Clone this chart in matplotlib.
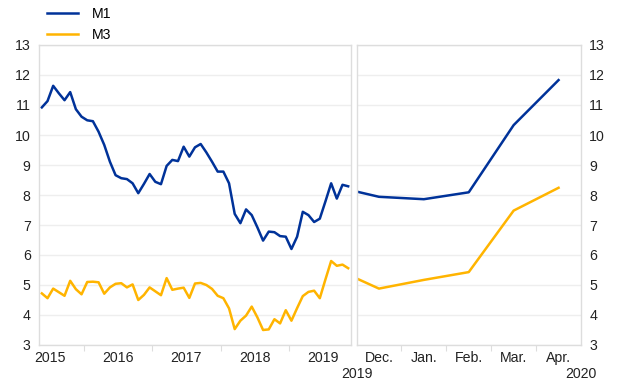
import numpy as np
import matplotlib
matplotlib.use("Agg")
import matplotlib.pyplot as plt
from matplotlib.ticker import FixedLocator, NullFormatter

plt.rcParams['font.family'] = ['Liberation Sans', 'DejaVu Sans']

# Data : month index, 0 = Jan 2015
# left panel : May 2015 -> Nov 2019
m1_left = [10.92, 11.13, 11.64, 11.39, 11.16, 11.43, 10.86, 10.61,
           10.49, 10.46, 10.11, 9.67, 9.11, 8.66, 8.56, 8.53, 8.39, 8.06, 8.37, 8.70,
           8.44, 8.36, 8.97, 9.17, 9.13, 9.61, 9.28, 9.59, 9.70, 9.42, 9.11, 8.78,
           8.78, 8.39, 7.37, 7.06, 7.52, 7.33, 6.92, 6.48, 6.78, 6.76, 6.63, 6.61,
           6.20, 6.61, 7.44, 7.33, 7.10, 7.21, 7.79, 8.39, 7.88, 8.34, 8.29]
m3_left = [4.72, 4.56, 4.88, 4.76, 4.64, 5.14, 4.86, 4.69,
           5.10, 5.11, 5.09, 4.71, 4.92, 5.04, 5.06, 4.92, 5.02, 4.50, 4.67, 4.92,
           4.79, 4.66, 5.23, 4.84, 4.88, 4.91, 4.57, 5.05, 5.07, 5.00, 4.87, 4.64,
           4.56, 4.22, 3.53, 3.81, 3.98, 4.28, 3.92, 3.50, 3.52, 3.86, 3.72, 4.16,
           3.81, 4.23, 4.63, 4.77, 4.81, 4.56, 5.19, 5.80, 5.64, 5.68, 5.56]
months_left = np.arange(4, 4 + len(m1_left))
year_labels = ["2015", "2016", "2017", "2018", "2019"]

# right panel : Nov 2019 -> Apr 2020
m1_right = [8.29, 7.94, 7.86, 8.09, 10.33, 11.83]
m3_right = [5.56, 4.88, 5.17, 5.43, 7.48, 8.24]
months_right = np.arange(58, 58 + len(m1_right))
month_labels = ["Dec.", "Jan.", "Feb.", "Mar.", "Apr."]

BLUE = "#003299"
YELLOW = "#ffb400"
GRID = "#eeeeee"
FRAME = "#dddddd"
FS = 10.2

W, H = 620, 387
fig = plt.figure(figsize=(W / 100, H / 100), dpi=100)

axL = fig.add_axes([39 / W, 1 - 345 / H, 312 / W, 300 / H])
axR = fig.add_axes([356.5 / W, 1 - 345 / H, 224.5 / W, 300 / H])

for ax in (axL, axR):
    ax.set_ylim(3, 13)
    ax.set_yticks(range(3, 14))
    ax.grid(True, axis="y", color=GRID, linewidth=1)
    ax.set_axisbelow(True)
    for s in ax.spines.values():
        s.set_color(FRAME)
        s.set_linewidth(1)
    ax.tick_params(axis="y", length=0, labelsize=FS, colors="#222222", pad=6)
    ax.tick_params(axis="x", which="major", length=4, color=FRAME, labelsize=FS,
                   labelcolor="#222222")

axL.plot(months_left, m1_left, color=BLUE, linewidth=1.8, label="M1")
axL.plot(months_left, m3_left, color=YELLOW, linewidth=1.8, label="M3")
axL.set_xlim(3.5, 58.5)
axL.xaxis.set_major_locator(FixedLocator([11.5, 23.5, 35.5, 47.5]))
axL.xaxis.set_major_formatter(NullFormatter())
axL.xaxis.set_minor_locator(FixedLocator([5.5 + 12 * i for i in range(5)]))
axL.set_xticklabels(year_labels, minor=True)
axL.tick_params(axis="x", which="minor", length=0, labelsize=FS, labelcolor="#222222", pad=4)

axR.plot(months_right, m1_right, color=BLUE, linewidth=1.8)
axR.plot(months_right, m3_right, color=YELLOW, linewidth=1.8)
axR.set_xlim(58.5, 63.5)
axR.xaxis.set_major_locator(FixedLocator([59.5, 60.5, 61.5, 62.5]))
axR.xaxis.set_major_formatter(NullFormatter())
axR.xaxis.set_minor_locator(FixedLocator(np.arange(59, 64)))
axR.set_xticklabels(month_labels, minor=True)
axR.tick_params(axis="x", which="minor", length=0, labelsize=FS, labelcolor="#222222", pad=4)
axR.yaxis.tick_right()

fig.text(356.5 / W, 1 - 374 / H, "2019", ha="center", va="center", fontsize=FS, color="#222222")
fig.text(581 / W, 1 - 374 / H, "2020", ha="center", va="center", fontsize=FS, color="#222222")

fig.legend(loc="upper left", bbox_to_anchor=(47 / W, 1 - 7 / H), frameon=False,
           fontsize=FS, handlelength=2.2, handletextpad=1.0, labelspacing=0.5,
           borderpad=0, borderaxespad=0)

fig.savefig("out.png", dpi=100)
